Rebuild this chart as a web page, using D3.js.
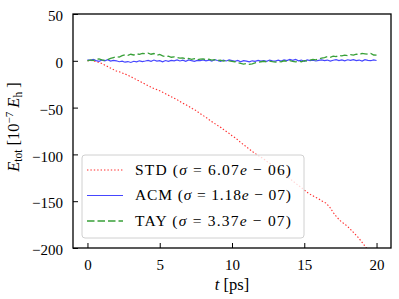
<!DOCTYPE html>
<html>
<head>
<meta charset="utf-8">
<script src="https://cdn.jsdelivr.net/npm/d3@7"></script>
<style>
  body { margin: 0; background: #fff; }
  text { font-family: "Liberation Serif", "DejaVu Serif", serif; fill: #000; }
</style>
</head>
<body>
<div id="chart"></div>
<script>
// t grid for STD (0.25 ps) and ACM/TAY (0.2 ps)
var stdValues = [0, 0.5, -0.5, -1.5, -3, -5, -7, -9, -11, -12, -13.5, -15, -17, -19, -21, -23,
  -25, -27, -29, -30.5, -32, -34, -36, -38, -40, -42, -44.5, -46.5, -48.5, -51, -53, -56,
  -58.5, -61, -64, -66.5, -69, -71.5, -74.5, -77, -80, -82.5, -86, -89, -92, -95, -98, -100.5,
  -103, -105.5, -108.5, -111, -114, -117, -120, -123, -126, -129, -132, -135, -138, -141, -143.5, -145.5,
  -147.5, -150, -152, -156, -162, -167, -171, -174, -177, -181, -185, -189, -194, -199, -204, -207, -210];

var acmValues = [1, 0.5, 1.5, 0.2, -0.5, 0.8, 0, 1.2, -0.3, 0.5, 0,
  -1, -0.3, -1.5, -0.8, -1.8, -0.5, -1.2, 0, -0.8, -0.2,
  0.5, -0.5, 0.8, -0.3, 0.2, -1, 0.3, -0.6, 0.4, 0,
  1, -0.2, 0.6, -0.5, 0.9, 0.1, -0.6, 0.5, 0.2, 1,
  0, 0.8, -0.4, 1.2, 0.3, -0.5, 0.6, -0.2, 0.9, 0.2,
  -0.6, 0.4, -1, 0.2, -0.3, -1.2, 0, -0.5, 0.5, -0.4,
  0.3, -0.6, 0.8, 0, -0.4, 0.6, -0.2, 1, 0.2, 1.4,
  0.5, 1.5, 0, 0.8, -0.5, 1, 0.2, 0.6, -0.2, 0.5,
  1, 0.2, 0.8, -0.3, 0.6, 1.2, 0.3, 0.9, 0, 1.1,
  0.4, 1.3, 0.2, 0.8, -0.2, 1.2, 0.5, 0.1, 0.9, 0.3];

var tayValues = [0, 1, 0.3, 1.5, 2, 1, 0.5, 1.2, 2.5, 3.5, 4.4,
  4, 5.5, 6.5, 5.8, 7, 6.2, 7.5, 6.8, 8, 7.5,
  8.2, 7, 7.8, 6, 6.8, 5.2, 4.5, 5, 3.8, 4.2,
  3.5, 2.8, 3.2, 2, 2.5, 1.5, 2.2, 1, 1.8, 2,
  1.2, 1.8, 0.8, 1.3, 0.2, 0.8, -0.3, 0.5, 0, -0.5,
  -1, -2, -2.8, -3.5, -3, -3.8, -3.2, -2.2, -1.5, -1,
  -0.5, -1.2, -0.3, -1, -1.5, -0.6, -1.2, 0, -0.8, 0.2,
  -0.5, -1.2, -0.4, -1, 0.2, -0.3, 0.8, 1.5, 1, 2,
  2.8, 3.5, 4.4, 3.8, 5, 4.5, 5.8, 5.2, 6, 5.5,
  6.5, 6, 7.2, 6.5, 8, 7.5, 7, 7.8, 6.2, 6];

var xTicks = [0, 5, 10, 15, 20];
var yTicks = [50, 0, -50, -100, -150, -200];
var legendNames = ["STD", "ACM", "TAY"];
var legendSigmas = ["6.07", "1.18", "3.37"];
var legendExps = ["06", "07", "07"];

var width = 399, height = 299;
var margin = {top: 14, right: 8, bottom: 51, left: 73};

var svg = d3.select("#chart")
    .append("svg")
    .attr("width", width)
    .attr("height", height);

var x = d3.scaleLinear().domain([-1, 21]).range([margin.left, width - margin.right]);
var y = d3.scaleLinear().domain([-200, 50]).range([height - margin.bottom, margin.top]);

svg.append("clipPath").attr("id", "clip")
    .append("rect")
    .attr("x", margin.left).attr("y", margin.top)
    .attr("width", width - margin.left - margin.right)
    .attr("height", height - margin.top - margin.bottom);

var line = d3.line()
    .x(function(d) { return x(d.t); })
    .y(function(d) { return y(d.v); });

var stdData = stdValues.map(function(v, i) { return {t: i * 0.25, v: v}; });
var acmData = acmValues.map(function(v, i) { return {t: i * 0.2, v: v}; });
var tayData = tayValues.map(function(v, i) { return {t: i * 0.2, v: v}; });

var styles = [
  {color: "#ff2a2a", width: 1.1, dash: "1.4,2"},
  {color: "#4646ff", width: 1.2, dash: "none"},
  {color: "#38a038", width: 1.3, dash: "7.5,3"}
];

var plot = svg.append("g").attr("clip-path", "url(#clip)");
[stdData, acmData, tayData].forEach(function(data, i) {
    plot.append("path")
        .datum(data)
        .attr("d", line)
        .attr("fill", "none")
        .attr("stroke", styles[i].color)
        .attr("stroke-width", styles[i].width)
        .attr("stroke-dasharray", styles[i].dash);
});

// axes with inward ticks
var xAxis = svg.append("g")
    .attr("transform", "translate(0," + (height - margin.bottom) + ")")
    .call(d3.axisBottom(x).tickValues(xTicks).tickSizeInner(-5).tickSizeOuter(0).tickPadding(11));
var yAxis = svg.append("g")
    .attr("transform", "translate(" + margin.left + ",0)")
    .call(d3.axisLeft(y).tickValues(yTicks).tickSizeInner(-5).tickSizeOuter(0).tickPadding(10)
        .tickFormat(function(d) { return d < 0 ? "\u2212" + (-d) : d; }));

[xAxis, yAxis].forEach(function(a) {
    a.select(".domain").remove();
    a.selectAll("line").attr("stroke", "#000").attr("stroke-width", 1);
    a.selectAll("text").attr("font-family", "Liberation Serif").attr("font-size", 15).attr("fill", "#000");
});
yAxis.selectAll("text").attr("dy", "0.45em");

svg.append("rect")
    .attr("x", margin.left).attr("y", margin.top)
    .attr("width", width - margin.left - margin.right)
    .attr("height", height - margin.top - margin.bottom)
    .attr("fill", "none")
    .attr("stroke", "#000")
    .attr("stroke-width", 1.3);

// legend
var legend = svg.append("g");
legend.append("rect")
    .attr("x", 82).attr("y", 155)
    .attr("width", 222).attr("height", 83)
    .attr("rx", 3)
    .attr("fill", "#fff").attr("fill-opacity", 0.8)
    .attr("stroke", "#d0d0d0").attr("stroke-width", 1);

legendNames.forEach(function(name, i) {
    var cy = 170 + i * 25.5;
    legend.append("line")
        .attr("x1", 87).attr("x2", 123)
        .attr("y1", cy).attr("y2", cy)
        .style("stroke", styles[i].color)
        .style("stroke-width", styles[i].width)
        .style("stroke-dasharray", styles[i].dash);
    var t = legend.append("text")
        .attr("x", 135).attr("y", cy + 4.5)
        .attr("font-size", 15.5)
        .attr("textLength", 156)
        .attr("lengthAdjust", "spacing");
    t.append("tspan").text(name + " (");
    t.append("tspan").attr("font-style", "italic").text("\u03c3");
    t.append("tspan").text(" = " + legendSigmas[i]);
    t.append("tspan").attr("font-style", "italic").text("e");
    t.append("tspan").text(" \u2212 " + legendExps[i] + ")");
});

// x label
var xl = svg.append("text")
    .attr("x", 232).attr("y", 290)
    .attr("text-anchor", "middle")
    .attr("font-size", 16.5);
xl.append("tspan").attr("font-style", "italic").text("t");
xl.append("tspan").text(" [ps]");

// y label
var yl = svg.append("text")
    .attr("transform", "translate(19,127) rotate(-90)")
    .attr("text-anchor", "middle")
    .attr("font-size", 16.5);
yl.append("tspan").attr("font-style", "italic").text("E");
yl.append("tspan").attr("font-size", 11.5).attr("dy", 3).text("tot");
yl.append("tspan").attr("dy", -3).text(" [10");
yl.append("tspan").attr("font-size", 11).attr("dy", -6).text("\u22127");
yl.append("tspan").attr("dy", 6).attr("font-style", "italic").text(" E");
yl.append("tspan").attr("font-size", 11.5).attr("dy", 3).text("h");
yl.append("tspan").attr("dy", -3).text(" ]");
</script>
</body>
</html>
